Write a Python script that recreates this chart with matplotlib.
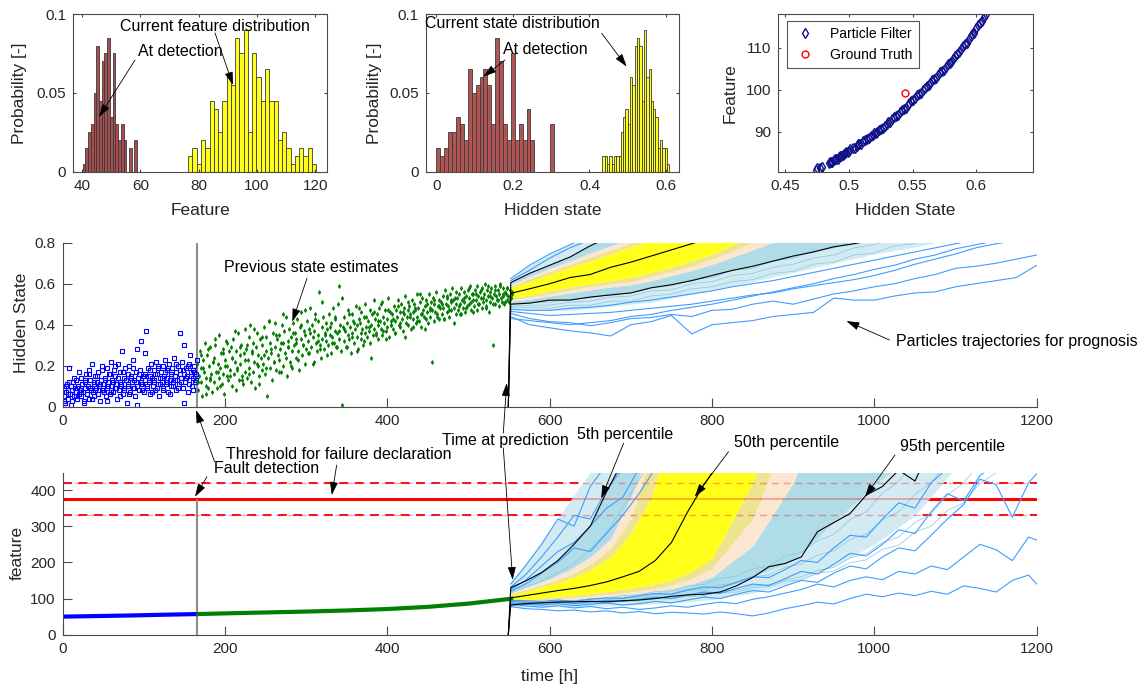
import numpy as np
import matplotlib
matplotlib.use('Agg')
import matplotlib.pyplot as plt
from matplotlib.patches import FancyArrowPatch
from matplotlib.ticker import FormatStrFormatter

plt.rcParams['font.family'] = ['Liberation Sans', 'DejaVu Sans']

# ------------------------------------------------------------------ data
FAULT_T = 165
PRED_T0 = 549
THRESH, THRESH_LO, THRESH_HI = 375, 330, 420

# top-left histogram (feature)
feat_det_start, feat_det_w = 40.2, 0.935
feat_det_h = [0.005, 0.015, 0.025, 0.03, 0.05, 0.08, 0.045, 0.07, 0.075, 0.085,
              0.035, 0.075, 0.03, 0.02, 0.03, 0.02, 0, 0.015, 0, 0.02]
feat_cur_start, feat_cur_w = 76.4, 1.463
feat_cur_h = [0.01, 0.015, 0.005, 0.02, 0.015, 0.045, 0.04, 0.025, 0.045, 0.06,
              0.055, 0.085, 0.075, 0.09, 0.025, 0.075, 0.06, 0.045, 0.065, 0.045,
              0.045, 0.02, 0.025, 0.015, 0.005, 0.01, 0.015, 0.01, 0.015, 0.005]

# top-middle histogram (hidden state)
hs_det_start, hs_det_w = 0.0, 0.01024
hs_det_h = [0.015, 0.01, 0.015, 0.025, 0.025, 0.035, 0.03, 0.02, 0.065, 0.05,
            0.055, 0.06, 0.065, 0.055, 0.03, 0.085, 0.07, 0.03, 0.02, 0.075,
            0.02, 0.03, 0.02, 0.04, 0.02, 0, 0, 0, 0, 0.03]
hs_cur_start, hs_cur_w = 0.4337, 0.00603
hs_cur_h = [0.01, 0.01, 0.005, 0.01, 0.005, 0.01, 0.01, 0.01, 0.025, 0.035,
            0.04, 0.03, 0.06, 0.055, 0.08, 0.085, 0.08, 0.045, 0.09, 0.06,
            0.065, 0.045, 0.04, 0.035, 0.015, 0.02, 0.015, 0.015, 0.005]

# top-right scatter
pf_state = [0.474, 0.477, 0.484, 0.486, 0.488, 0.490, 0.492, 0.494, 0.496, 0.498,
            0.500, 0.503, 0.506, 0.508, 0.511, 0.514, 0.517, 0.520, 0.522, 0.525,
            0.528, 0.531, 0.534, 0.537, 0.540, 0.543, 0.546, 0.549, 0.552, 0.555,
            0.558, 0.561, 0.564, 0.567, 0.570, 0.573, 0.576, 0.579, 0.582, 0.585,
            0.588, 0.591, 0.594, 0.597, 0.600, 0.603, 0.606, 0.608]
pf_feat = [80.9, 81.3, 82.5, 82.9, 83.2, 83.6, 84.0, 84.3, 84.7, 85.1,
           85.5, 86.1, 86.7, 87.1, 87.7, 88.3, 88.9, 89.6, 90.0, 90.7,
           91.4, 92.2, 93.0, 93.8, 94.6, 95.4, 96.3, 97.2, 98.1, 99.0,
           99.9, 100.8, 101.7, 102.6, 103.5, 104.4, 105.4, 106.4, 107.4, 108.5,
           109.7, 110.8, 112.0, 113.2, 114.6, 115.9, 117.3, 118.0]
pf_state2 = [0.475, 0.479, 0.485, 0.487, 0.489, 0.491, 0.493, 0.495, 0.497, 0.499,
             0.501, 0.5045, 0.507, 0.5095, 0.5125, 0.5155, 0.5185, 0.521, 0.5235, 0.5265,
             0.5295, 0.5325, 0.5355, 0.5385, 0.5415, 0.5445, 0.5475, 0.5505, 0.5535, 0.5565,
             0.5595, 0.5625, 0.5655, 0.5685, 0.5715, 0.5745, 0.5775, 0.5805, 0.5835, 0.5865,
             0.5895, 0.5925, 0.5955, 0.5985, 0.6015, 0.6045]
pf_feat2 = [81.3, 81.5, 82.9, 82.9, 83.5, 83.6, 84.3, 84.4, 85.0, 85.1,
            85.9, 86.2, 87.0, 87.2, 88.1, 88.4, 89.3, 89.6, 90.4, 90.8,
            91.9, 92.4, 93.5, 94.0, 95.1, 95.6, 96.9, 97.5, 98.7, 99.3,
            100.5, 101.1, 102.3, 102.8, 104.1, 104.7, 106.0, 106.7, 108.0, 108.9,
            110.4, 111.2, 112.8, 113.6, 115.4, 116.3]
gt_state, gt_feat = [0.544], [99.1]

# middle: previous state estimates
blue_t1 = np.arange(1, 166)
blue_v1 = [.05, .09, .02, .07, .11, .04, .08, .19, .06, .10, .03, .08, .12, .05, .09, .07, .13, .04, .10, .06,
           .08, .14, .05, .11, .07, .03, .12, .09, .16, .06, .10, .18, .04, .13, .08, .21, .07, .11, .05, .15,
           .09, .12, .06, .17, .10, .03, .13, .08, .20, .11, .07, .14, .05, .19, .09, .12, .16, .06, .22, .10,
           .13, .07, .18, .09, .15, .11, .04, .21, .08, .12, .17, .10, .27, .06, .14, .09, .19, .13, .02, .16,
           .11, .20, .07, .15, .12, .09, .23, .13, .05, .17, .10, .28, .14, .08, .18, .12, .32, .11, .15, .07,
           .16, .13, .37, .09, .19, .12, .15, .06, .21, .14, .10, .18, .13, .08, .22, .16, .11, .19, .05, .14,
           .17, .12, .20, .09, .15, .23, .11, .18, .14, .07, .21, .13, .16, .10, .19, .12, .24, .15, .08, .17,
           .13, .20, .11, .18, .36, .14, .22, .09, .16, .30, .12, .19, .15, .07, .21, .13, .25, .17, .10, .18,
           .14, .20, .12, .16, .23]
blue_t2 = np.arange(2, 165, 2)
blue_v2 = [.03, .10, .06, .12, .01, .08, .14, .05, .09, .17, .07, .11, .02, .13, .06, .16, .09, .04, .12, .08,
           .15, .06, .11, .18, .08, .13, .03, .10, .16, .07, .12, .20, .09, .14, .05, .11, .17, .08, .13, .10,
           .06, .14, .19, .09, .12, .01, .16, .11, .08, .15, .26, .10, .13, .18, .07, .12, .16, .09, .20, .11,
           .14, .08, .17, .12, .19, .06, .15, .10, .13, .21, .09, .16, .12, .18, .02, .14, .20, .11, .15, .08,
           .17, .13]
green_t1 = np.arange(166, 555)
green_v1 = [.21, .08, .15, .27, .12, .19, .05, .23, .17, .31, .10, .14, .25, .09, .20, .13, .29, .16, .07, .22,
            .24, .12, .30, .17, .09, .21, .35, .14, .19, .26, .11, .28, .16, .06, .23, .32, .15, .20, .13, .27,
            .18, .29, .10, .24, .33, .16, .22, .08, .27, .19, .36, .13, .25, .21, .30, .15, .11, .26, .38, .17,
            .28, .14, .23, .34, .19, .40, .12, .26, .31, .17, .22, .09, .29, .36, .20, .25, .15, .33, .24, .18,
            .30, .21, .39, .16, .27, .34, .05, .24, .42, .19, .31, .26, .13, .36, .22, .29, .41, .18, .33, .25,
            .23, .35, .28, .17, .40, .31, .20, .37, .26, .44, .15, .32, .29, .38, .22, .34, .27, .19, .41, .30,
            .36, .24, .31, .43, .27, .18, .39, .33, .46, .25, .30, .37, .21, .35, .28, .42, .32, .26, .38, .48,
            .29, .40, .34, .22, .37, .45, .31, .27, .42, .35, .56, .30, .24, .39, .33, .44, .28, .36, .41, .32,
            .38, .30, .45, .35, .26, .41, .34, .48, .31, .37, .43, .29, .36, .50, .33, .59, .40, .27, .01, .39,
            .32, .44, .37, .29, .41, .35, .47, .33, .39, .26, .45, .36, .42, .31, .38, .49, .34, .40, .28, .43,
            .41, .33, .46, .38, .30, .44, .36, .50, .39, .34, .42, .37, .47, .31, .40, .45, .35, .52, .38, .43,
            .36, .45, .40, .33, .48, .42, .38, .51, .35, .44, .41, .47, .37, .43, .39, .53, .34, .46, .42, .40,
            .45, .38, .49, .42, .36, .47, .44, .52, .40, .46, .39, .50, .43, .37, .48, .45, .54, .41, .44, .47,
            .40, .49, .45, .38, .52, .46, .43, .50, .47, .41, .55, .44, .48, .42, .51, .45, .39, .53, .47, .44,
            .49, .43, .52, .46, .41, .55, .48, .44, .51, .47, .53, .42, .50, .46, .56, .45, .49, .52, .43, .48,
            .51, .45, .54, .48, .43, .57, .50, .46, .53, .49, .44, .55, .51, .47, .58, .52, .48, .53, .45, .50,
            .53, .47, .55, .50, .45, .58, .52, .48, .56, .51, .46, .54, .49, .57, .53, .50, .59, .47, .55, .52,
            .55, .49, .57, .52, .47, .59, .54, .50, .56, .53, .48, .58, .51, .55, .60, .52, .49, .57, .54, .46,
            .56, .51, .58, .53, .30, .55, .50, .59, .54, .52, .57, .49, .55, .60, .53, .51, .58, .54, .50, .56,
            .55, .52, .58, .54, .51, .57, .53, .56, .55]
green_t2 = np.arange(167, 552, 3)
green_v2 = [.12, .25, .19, .06, .28, .14, .22, .33, .17, .10, .26, .20, .31, .15, .24, .37, .18, .29, .13, .23,
            .30, .16, .27, .38, .21, .11, .34, .25, .19, .42, .28, .22, .35, .17, .31, .45, .24, .29, .20, .36,
            .33, .23, .40, .30, .47, .26, .36, .21, .43, .32, .28, .51, .35, .25, .39, .31, .44, .29, .37, .53,
            .38, .29, .45, .34, .41, .27, .48, .36, .32, .44, .39, .24, .46, .35, .42, .50, .37, .33, .47, .40,
            .43, .36, .49, .41, .46, .34, .51, .44, .39, .48, .42, .55, .45, .38, .50, .47, .22, .52, .44, .49,
            .50, .43, .54, .47, .52, .41, .56, .49, .45, .53, .48, .58, .51, .46, .55, .50, .57, .53, .48, .59,
            .54, .50, .57, .52, .59, .55, .51, .58, .53]

# bottom: measured feature
meas_blue_t = [0, 40, 80, 120, 165]
meas_blue_f = [50, 51.5, 53, 55, 57]
meas_green_t = [165, 200, 250, 300, 350, 400, 450, 500, 555]
meas_green_f = [57, 59, 61.5, 64, 67, 71, 77, 86, 100]

# prognosis bands (time grid)
TB = [552, 575, 600, 625, 650, 675, 700, 725, 750, 775, 800, 850, 900, 950, 1000, 1050, 1100, 1150, 1200]
m_fan_hi = [.625, .69, .745, .79, .83, .87, .91, .95, .99, 1, 1, 1, 1, 1, 1, 1, 1, 1, 1]
m_q05 = [.605, .65, .69, .73, .785, .83, .87, .91, .95, .99, 1, 1, 1, 1, 1, 1, 1, 1, 1]
m_e3_hi = [.595, .635, .675, .71, .75, .785, .82, .855, .89, .93, .97, 1, 1, 1, 1, 1, 1, 1, 1]
m_e2_hi = [.59, .625, .66, .695, .73, .765, .80, .835, .87, .91, .95, 1, 1, 1, 1, 1, 1, 1, 1]
m_e1_hi = [.58, .61, .645, .68, .71, .745, .78, .81, .845, .88, .915, 1, 1, 1, 1, 1, 1, 1, 1]
m_e1_lo = [.53, .545, .565, .585, .60, .615, .63, .655, .68, .71, .745, .83, .91, 1, 1, 1, 1, 1, 1]
m_e2_lo = [.52, .535, .55, .57, .585, .60, .61, .635, .66, .685, .72, .80, .88, .96, 1, 1, 1, 1, 1]
m_e3_lo = [.515, .525, .54, .555, .57, .585, .595, .615, .64, .665, .695, .765, .84, .92, 1, 1, 1, 1, 1]
m_q95 = [.50, .51, .52, .525, .535, .548, .56, .585, .60, .615, .645, .69, .73, .775, .81, .85, .89, .93, .97]
m_fan_lo = [.48, .47, .47, .47, .48, .49, .50, .51, .53, .55, .57, .61, .655, .70, .745, .78, .82, .86, .90]

b_fan_hi = [145, 210, 290, 370, 450, 520, 600, 700, 800, 900, 1000, 1000, 1000, 1000, 1000, 1000, 1000, 1000, 1000]
b_q05 = [130, 150, 185, 240, 300, 425, 520, 620, 720, 820, 920, 1000, 1000, 1000, 1000, 1000, 1000, 1000, 1000]
b_e3_hi = [118, 135, 155, 180, 215, 265, 380, 520, 650, 800, 900, 1000, 1000, 1000, 1000, 1000, 1000, 1000, 1000]
b_e2_hi = [114, 128, 145, 165, 195, 240, 320, 500, 620, 760, 880, 1000, 1000, 1000, 1000, 1000, 1000, 1000, 1000]
b_e1_hi = [110, 122, 138, 155, 180, 215, 280, 380, 560, 700, 850, 1000, 1000, 1000, 1000, 1000, 1000, 1000, 1000]
b_e1_lo = [92, 97, 103, 108, 114, 120, 128, 138, 152, 175, 210, 420, 700, 1000, 1000, 1000, 1000, 1000, 1000]
b_e2_lo = [89, 93, 98, 102, 107, 112, 118, 126, 137, 155, 183, 320, 600, 1000, 1000, 1000, 1000, 1000, 1000]
b_e3_lo = [86, 90, 94, 97, 101, 105, 110, 116, 125, 140, 160, 245, 420, 700, 1000, 1000, 1000, 1000, 1000]
b_q95 = [82, 86, 89, 90, 91, 92, 95, 100, 107, 110, 114, 160, 205, 310, 415, 500, 1000, 1000, 1000]
b_fan_lo = [75, 76, 77, 78, 78, 80, 82, 85, 88, 92, 97, 115, 145, 190, 250, 330, 460, 600, 700]

# individual particle trajectories, hidden state
TM = [552, 575, 600, 625, 650, 675, 700, 725, 750, 775, 800, 825, 850, 875, 900,
      925, 950, 975, 1000, 1025, 1050, 1075, 1100, 1125, 1150, 1175, 1200]
traj_m1 = [.44, .40, .385, .37, .36, .345, .40, .415, .445, .355, .40, .41, .42, .44, .45,
           .46, .53, .52, .52, .54, .555, .56, .585, .60, .615, .63, .69]
traj_m2 = [.455, .43, .415, .41, .395, .41, .43, .435, .45, .44, .47, .475, .50, .515, .50,
           .525, .55, .565, .585, .60, .625, .645, .675, .685, .70, .72, .74]
traj_m3 = [.465, .455, .445, .45, .455, .46, .47, .48, .49, .50, .515, .53, .545, .555, .575,
           .59, .605, .62, .64, .665, .695, .72, .745, .775, .795, .81, .83]
traj_m4 = [.475, .47, .47, .48, .485, .495, .51, .52, .535, .55, .565, .585, .60, .615, .635,
           .655, .675, .695, .715, .735, .755, .775, .795, .815, .83, .85, .87]
traj_m7 = [.43, .42, .41, .40, .41, .42, .44, .45, .47, .485, .50, .52, .54, .56, .58,
           .60, .625, .645, .67, .69, .72, .74, .77, .79, .81, .83, .85]
traj_m5 = [.625, .69, .745, .79, .835, .87]
traj_m6 = [.615, .665, .725, .775, .815, .85]
# thin light particle trajectories inside the fan, hidden state
lite_m1 = [.49, .495, .495, .51, .515, .535, .54, .565, .57, .60, .61, .64, .65, .68, .695, .725, .74, .775, .79, .825]
lite_m2 = [.485, .485, .48, .495, .495, .515, .515, .54, .55, .575, .585, .61, .62, .65, .66, .695, .705, .74, .75,
           .785, .795, .83]
lite_m3 = [.50, .51, .51, .525, .53, .55, .555, .58, .59, .62, .63, .665, .675, .71, .725, .76, .775, .81, .825]

# individual particle trajectories, feature
TL = [552, 570, 590, 610, 630, 650, 670, 690, 710, 730, 750, 770, 790, 810, 830, 850, 870,
      890, 910, 930, 950, 970, 990, 1010, 1030, 1050, 1070, 1090, 1110, 1130, 1150, 1170, 1190, 1200]
traj_b3 = [78, 72, 70, 66, 68, 63, 66, 60, 64, 58, 62, 60, 57, 63, 58, 52, 60, 72, 80, 90,
           85, 100, 112, 105, 115, 108, 120, 112, 135, 128, 118, 150, 165, 140]
traj_b2 = [84, 80, 76, 80, 74, 78, 72, 76, 70, 74, 80, 76, 84, 90, 86, 98, 105, 115, 125, 140,
           132, 150, 160, 152, 175, 168, 190, 180, 215, 250, 235, 205, 270, 262]
traj_b1 = [88, 84, 82, 86, 80, 84, 88, 82, 86, 92, 88, 96, 104, 100, 112, 122, 118, 135, 150, 145,
           170, 190, 182, 215, 240, 232, 275, 320, 360, 430, 415, 325, 420, 445]
traj_b0 = [92, 90, 88, 92, 86, 90, 95, 92, 98, 104, 100, 110, 118, 114, 128, 140, 136, 155, 175, 168,
           195, 225, 218, 250, 290, 280, 340, 390, 370, 440, 470, 500, 520, 530]
traj_b4 = [95, 94, 92, 96, 92, 98, 102, 100, 108, 114, 112, 124, 132, 130, 145, 160, 158, 180, 205, 200,
           240, 275, 270, 320, 365, 350, 420, 460, 500, 520, 540, 560, 580, 590]
traj_u1 = [140, 190, 250, 320, 300, 410, 470]
traj_u2 = [132, 165, 215, 270, 330, 320, 400, 460]
traj_u3 = [125, 150, 190, 230, 255, 300, 350, 380, 460]
traj_u4 = [120, 140, 170, 200, 240, 230, 280, 330, 390, 460]
# thin light particle trajectories inside the fan, feature
lite_b1 = [84, 87, 84, 89, 86, 91, 90, 95, 96, 102, 101, 110, 112, 120, 123, 135, 138, 152, 160, 178,
           186, 212, 224, 255, 270, 310, 335, 386, 420, 475]
lite_b2 = [86, 89, 87, 91, 90, 95, 96, 102, 103, 111, 112, 122, 125, 138, 142, 160, 165, 186, 195, 220,
           232, 263, 278, 318, 340, 388, 420, 476]
lite_b3 = [88, 91, 90, 94, 94, 100, 101, 108, 110, 119, 122, 135, 139, 156, 161, 182, 190, 217, 228, 260,
           277, 318, 340, 392, 424, 480]
lite_b4 = [80, 83, 82, 85, 84, 88, 88, 93, 93, 99, 99, 106, 108, 117, 118, 130, 133, 148, 151, 170,
           176, 199, 207, 236, 247, 284, 300, 344, 364, 418, 448, 470]
lite_b5 = [115, 131, 147, 171, 197, 236, 284, 352, 428, 500]

# percentile lines (start from zero at PRED_T0)
TK = [PRED_T0] + TM
m_p05 = [0, .605, .65, .69, .73, .785, .83]
m_p50 = [0, .553, .575, .60, .63, .645, .68, .705, .735, .765, .795, .83]
m_p95 = [0, .50, .505, .52, .52, .535, .545, .555, .58, .595, .615, .64, .665, .685, .71,
         .735, .755, .78, .795, .815, .84]
TLK = [PRED_T0] + TL
b_p05 = [0, 130, 148, 172, 205, 250, 300, 395, 480]
b_p50 = [0, 102, 108, 115, 122, 128, 136, 146, 160, 175, 205, 255, 340, 415, 480]
b_p95 = [0, 82, 86, 88, 90, 91, 92, 91, 94, 96, 100, 106, 110, 112, 118, 135, 158, 188, 197, 215,
         285, 310, 335, 386, 410, 455, 425, 520]

# ------------------------------------------------------------------ style
W, H = 1147, 688
AX_COL = '#4a4a4a'
TXT_COL = '#262626'
C_YEL = '#ffff1a'
C_KHA = '#eee38f'
C_BIS = '#fbe7d0'
C_LB = '#b0dce8'
C_LBL = '#d2ebf3'
C_DOD = '#3f9cff'
C_LITE = '#86c7de'
FS_TICK, FS_LAB, FS_NOTE = 11, 12.5, 11.5

fig = plt.figure(figsize=(W / 100, H / 100), dpi=100)


def rect(x0, y0, x1, y1):
    return [x0 / W, 1 - y1 / H, (x1 - x0) / W, (y1 - y0) / H]


def fp(x, y):
    return (x / W, 1 - y / H)


def style(ax, box, ticklen):
    for s in ax.spines.values():
        s.set_color(AX_COL)
        s.set_linewidth(0.8)
    if not box:
        ax.spines['top'].set_visible(False)
        ax.spines['right'].set_visible(False)
    ax.tick_params(direction='in', length=ticklen, width=0.8, color=AX_COL,
                   labelcolor=TXT_COL, labelsize=FS_TICK, top=box, right=box, pad=5)


def hist(ax, start, width, heights, color):
    n = len(heights)
    left = start + width * np.arange(n)
    ax.bar(left, heights, width=width, align='edge', color=color,
           edgecolor='#3a3a3a', linewidth=0.6)


def labels(ax, xl, yl, xpos, ypos):
    if xl:
        ax.set_xlabel(xl, fontsize=FS_LAB, color=TXT_COL, va='center')
        ax.xaxis.set_label_coords(*xpos)
    if yl:
        ax.set_ylabel(yl, fontsize=FS_LAB, color=TXT_COL, va='center')
        ax.yaxis.set_label_coords(*ypos)


# ---- top-left
ax1 = fig.add_axes(rect(73, 14, 327, 171.7))
hist(ax1, feat_det_start, feat_det_w, feat_det_h, '#a84e4e')
hist(ax1, feat_cur_start, feat_cur_w, feat_cur_h, C_YEL)
ax1.set_xlim(36.9, 124)
ax1.set_ylim(0, 0.1)
ax1.set_xticks([40, 60, 80, 100, 120])
ax1.set_yticks([0, 0.05, 0.1])
ax1.yaxis.set_major_formatter(FormatStrFormatter('%g'))
style(ax1, True, 2)
labels(ax1, 'Feature', 'Probability [-]', (0.5, -0.247), (-0.209, 0.5))

# ---- top-middle
ax2 = fig.add_axes(rect(425.7, 14, 679, 171.7))
hist(ax2, hs_det_start, hs_det_w, hs_det_h, '#b05454')
hist(ax2, hs_cur_start, hs_cur_w, hs_cur_h, C_YEL)
ax2.set_xlim(-0.028, 0.634)
ax2.set_ylim(0, 0.1)
ax2.set_xticks([0, 0.2, 0.4, 0.6])
ax2.set_yticks([0, 0.05, 0.1])
ax2.xaxis.set_major_formatter(FormatStrFormatter('%g'))
ax2.yaxis.set_major_formatter(FormatStrFormatter('%g'))
style(ax2, True, 2)
labels(ax2, 'Hidden state', 'Probability [-]', (0.5, -0.243), (-0.204, 0.5))

# ---- top-right
ax3 = fig.add_axes(rect(778.3, 14, 1032.7, 171.7))
ax3.plot(pf_state, pf_feat, ls='none', marker='d', ms=5.5, mfc='none', mec='#10108a',
         mew=1.0, label='Particle Filter')
ax3.plot(pf_state2, pf_feat2, ls='none', marker='d', ms=5.5, mfc='none', mec='#10108a',
         mew=1.0)
ax3.plot(gt_state, gt_feat, ls='none', marker='o', ms=5, mfc='none', mec='#ff0000',
         mew=1.0, label='Ground Truth')
ax3.set_xlim(0.4445, 0.6443)
ax3.set_ylim(80.5, 118)
ax3.set_xticks([0.45, 0.5, 0.55, 0.6])
ax3.set_yticks([90, 100, 110])
ax3.xaxis.set_major_formatter(FormatStrFormatter('%g'))
style(ax3, True, 2)
labels(ax3, 'Hidden State', 'Feature', (0.5, -0.243), (-0.188, 0.5))
leg = ax3.legend(loc='upper left', bbox_to_anchor=(0.033, 0.958), borderaxespad=0,
                 fontsize=10, fancybox=False, framealpha=1, edgecolor='#555555',
                 handletextpad=0.9, borderpad=0.45, labelspacing=0.5, handlelength=1.8)
leg.get_frame().set_linewidth(0.8)


def draw_fan(ax, t, lo, q95, e3l, e2l, e1l, e1h, e2h, e3h, q05, hi):
    ax.fill_between(t, lo, q95, color=C_LBL, lw=0)
    ax.fill_between(t, q95, e3l, color=C_LB, lw=0)
    ax.fill_between(t, e3l, e2l, color=C_BIS, lw=0)
    ax.fill_between(t, e2l, e1l, color=C_KHA, lw=0)
    ax.fill_between(t, e1l, e1h, color=C_YEL, lw=0)
    ax.fill_between(t, e1h, e2h, color=C_KHA, lw=0)
    ax.fill_between(t, e2h, e3h, color=C_BIS, lw=0)
    ax.fill_between(t, e3h, q05, color=C_LB, lw=0)
    ax.fill_between(t, q05, hi, color=C_LBL, lw=0)


# ---- middle: hidden state
ax4 = fig.add_axes(rect(62.7, 242.7, 1036.7, 406.7))
ax4.axvline(FAULT_T, color='#8c8c8c', lw=1.5, zorder=1)
ax4.plot(blue_t1, blue_v1, ls='none', marker='s', ms=2.2, mfc='none', mec='#0000ff', mew=0.8)
ax4.plot(blue_t2, blue_v2, ls='none', marker='s', ms=2.2, mfc='none', mec='#0000ff', mew=0.8)
ax4.plot(green_t1, green_v1, ls='none', marker='d', ms=2.0, mfc='#008000', mec='#008000', mew=0.6)
ax4.plot(green_t2, green_v2, ls='none', marker='d', ms=2.0, mfc='#008000', mec='#008000', mew=0.6)
draw_fan(ax4, TB, m_fan_lo, m_q95, m_e3_lo, m_e2_lo, m_e1_lo, m_e1_hi, m_e2_hi, m_e3_hi,
         m_q05, m_fan_hi)
for tr in (lite_m1, lite_m2, lite_m3):
    ax4.plot(TM[:len(tr)], tr, color=C_LITE, lw=0.5)
for tr in (traj_m1, traj_m2, traj_m3, traj_m4, traj_m7):
    ax4.plot(TM, tr, color=C_DOD, lw=0.8)
for tr in (traj_m5, traj_m6):
    ax4.plot(TM[:len(tr)], tr, color=C_DOD, lw=0.8)
for p in (m_p05, m_p50, m_p95):
    ax4.plot(TK[:len(p)], p, color='black', lw=0.8)
ax4.set_xlim(0, 1200)
ax4.set_ylim(0, 0.8)
ax4.set_xticks([0, 200, 400, 600, 800, 1000, 1200])
ax4.set_yticks([0, 0.2, 0.4, 0.6, 0.8])
ax4.yaxis.set_major_formatter(FormatStrFormatter('%g'))
style(ax4, False, 6.5)
labels(ax4, None, 'Hidden State', None, (-0.0428, 0.51))

# ---- bottom: feature
ax5 = fig.add_axes(rect(62.7, 472.7, 1036.7, 634.7))
for y, ls, lw in ((THRESH, '-', 2.2), (THRESH_LO, '--', 1.3), (THRESH_HI, '--', 1.3)):
    ax5.axhline(y, color='#ff0000', ls=ls, lw=lw, dashes=(5, 3.5) if ls == '--' else (None, None), zorder=1)
ax5.vlines(FAULT_T, 0, THRESH, color='#8c8c8c', lw=1.5, zorder=1)
ax5.plot(meas_blue_t, meas_blue_f, color='#0000ff', lw=3, solid_capstyle='butt')
ax5.plot(meas_green_t, meas_green_f, color='#008000', lw=3, solid_capstyle='butt')
draw_fan(ax5, TB, b_fan_lo, b_q95, b_e3_lo, b_e2_lo, b_e1_lo, b_e1_hi, b_e2_hi, b_e3_hi,
         b_q05, b_fan_hi)
for tr in (lite_b1, lite_b2, lite_b3, lite_b4, lite_b5):
    ax5.plot(TL[:len(tr)], tr, color=C_LITE, lw=0.5, zorder=2)
for y, ls, lw in ((THRESH, '-', 1.2), (THRESH_LO, '--', 1.0), (THRESH_HI, '--', 1.0)):
    ax5.axhline(y, color='#ff0000', ls=ls, lw=lw, alpha=0.35,
                dashes=(5, 3.5) if ls == '--' else (None, None), zorder=3)
for tr in (traj_b0, traj_b1, traj_b2, traj_b3, traj_b4):
    ax5.plot(TL, tr, color=C_DOD, lw=0.8, zorder=4)
for tr in (traj_u1, traj_u2, traj_u3, traj_u4):
    ax5.plot(TL[:len(tr)], tr, color=C_DOD, lw=0.8, zorder=4)
for p in (b_p05, b_p50, b_p95):
    ax5.plot(TLK[:len(p)], p, color='black', lw=0.8, zorder=5)
ax5.set_xlim(0, 1200)
ax5.set_ylim(0, 448)
ax5.set_xticks([0, 200, 400, 600, 800, 1000, 1200])
ax5.set_yticks([0, 100, 200, 300, 400])
style(ax5, False, 6.5)
labels(ax5, 'time [h]', 'feature', (0.5, -0.259), (-0.047, 0.507))

# ---- annotations (figure pixel coords, origin top-left)
notes = [
    ('Current feature distribution', (215, 26.7), [(215, 33, 233, 85)]),
    ('At detection', (180, 51.7), [(135, 60, 99, 117)]),
    ('Current state distribution', (512.5, 23.3), [(601.7, 33.3, 626.7, 66.7)]),
    ('At detection', (545.5, 50), [(505, 60, 483.3, 76.7)]),
    ('Previous state estimates', (311, 267.7), [(307, 278.3, 292.3, 321.7)]),
    ('Particles trajectories for prognosis', (1016.7, 341.7), [(889.5, 340, 846.4, 321)]),
    ('Time at prediction', (505, 440.7), [(503.3, 433, 506.7, 383), (503.3, 448, 512.7, 580)]),
    ('Threshold for failure declaration', (338.9, 454.3), [(336.7, 465, 331.8, 495)]),
    ('Fault detection', (266.8, 468.3), [(207, 476.7, 195, 496.7), (214.6, 461.7, 196, 410)]),
    ('5th percentile', (625.5, 435), [(623.6, 443.3, 601.2, 498.3)]),
    ('50th percentile', (786.5, 442.7), [(728.5, 451.7, 694.8, 496.7)]),
    ('95th percentile', (953, 446), [(895, 455, 865, 496.7)]),
]
for txt, pos, arrows in notes:
    fig.text(*fp(*pos), txt, ha='center', va='center', fontsize=FS_NOTE, color='black', zorder=10)
    for x0, y0, x1, y1 in arrows:
        fig.add_artist(FancyArrowPatch(fp(x0, y0), fp(x1, y1), transform=fig.transFigure,
                                       arrowstyle='-|>,head_length=0.8,head_width=0.25',
                                       mutation_scale=10, lw=0.6, color='black',
                                       shrinkA=0, shrinkB=0, zorder=10))

fig.savefig('out.png', dpi=100)
